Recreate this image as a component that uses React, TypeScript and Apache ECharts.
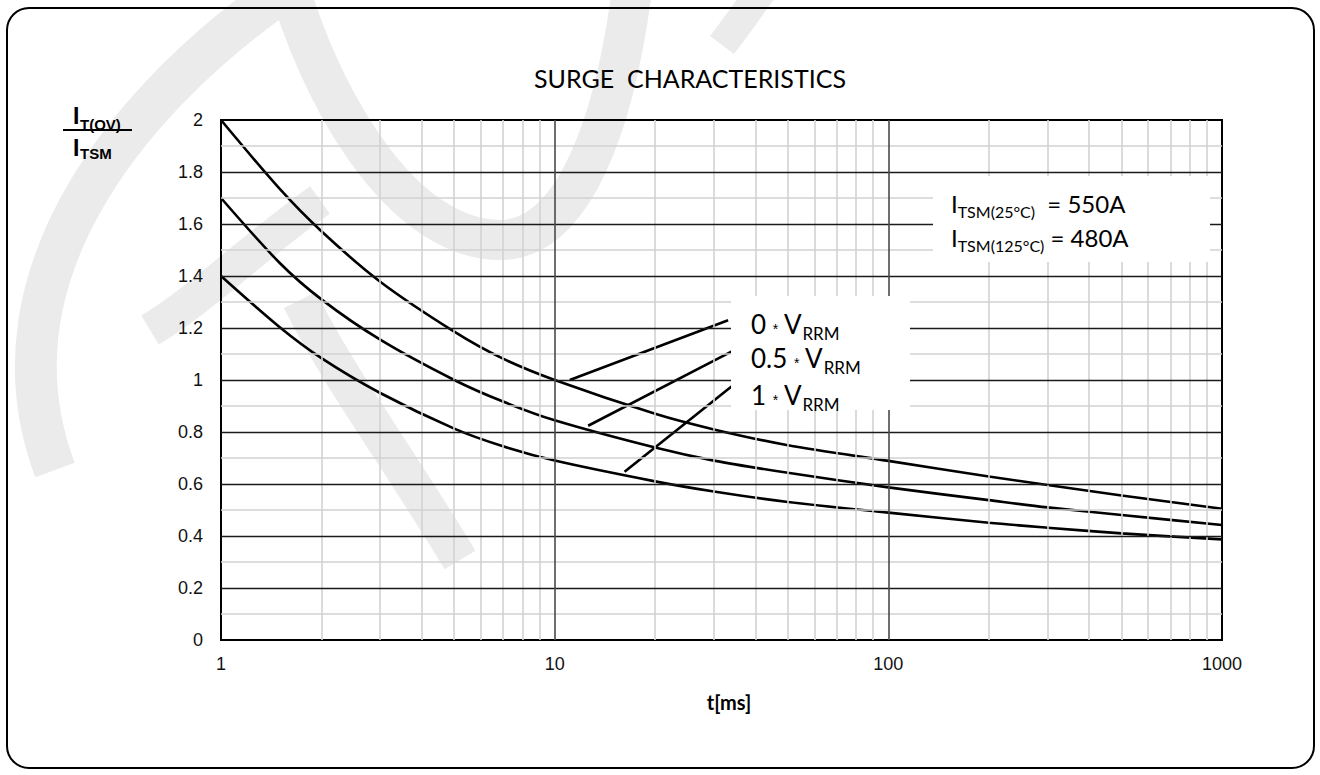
import React, { useEffect, useRef } from "react";
import * as echarts from "echarts";

// ---- data ----
const timeMs = [1, 1.5, 2, 3, 5, 7, 10, 20, 30, 50, 100, 200, 300, 500, 1000];
const ratioAt0VRRM = [2.0, 1.735, 1.572, 1.378, 1.186, 1.082, 1.0, 0.87, 0.81, 0.749, 0.689, 0.629, 0.596, 0.556, 0.505];
const ratioAt05VRRM = [1.7, 1.45, 1.31, 1.155, 1.0, 0.917, 0.845, 0.74, 0.69, 0.643, 0.587, 0.538, 0.51, 0.481, 0.442];
const ratioAt1VRRM = [1.4, 1.203, 1.084, 0.95, 0.813, 0.745, 0.69, 0.61, 0.571, 0.531, 0.49, 0.451, 0.432, 0.41, 0.387];

const xMinorGrid = [2, 3, 4, 5, 6, 7, 8, 9, 20, 30, 40, 50, 60, 70, 80, 90, 200, 300, 400, 500, 600, 700, 800, 900];
const xMajorGrid = [10, 100];
const yMajorGrid = [0.2, 0.4, 0.6, 0.8, 1.0, 1.2, 1.4, 1.6, 1.8];
const yMinorGrid = [0.1, 0.3, 0.5, 0.7, 0.9, 1.1, 1.3, 1.5, 1.7, 1.9];

// leader lines (data coordinates: [t, ratio])
const leader0 = [[11.1, 1.0], [33.1, 1.23]];
const leader05 = [[12.6, 0.824], [34.2, 1.112]];
const leader1 = [[16.2, 0.647], [35.3, 0.993]];

const seriesLabels = ["0", "0.5", "1"];

const FONT_CAL = "Lato, 'Open Sans', sans-serif";
const FONT_ARIAL = "'Liberation Sans', Arial, sans-serif";
const FONT_NARROW = "'Liberation Sans Narrow', 'Liberation Sans', Arial, sans-serif";

export default function App() {
  const ref = useRef<HTMLDivElement>(null);

  useEffect(() => {
    if (!ref.current) return;
    const chart = echarts.init(ref.current, undefined, { renderer: "svg" });

    const minorStyle = { color: "#d2d2d2", width: 1.6, type: "solid" };
    const majorH = { color: "#1a1a1a", width: 1.3, type: "solid" };
    const majorV = { color: "#4a4a4a", width: 1.6, type: "solid" };

    const curve = (name: string, vals: number[]) => ({
      name,
      type: "line",
      z: 3,
      smooth: 0.3,
      symbol: "none",
      silent: true,
      lineStyle: { color: "#000", width: 2.6 },
      data: timeMs.map((t, i) => [t, vals[i]]),
    });
    const leader = (pts: number[][]) => ({
      type: "line",
      z: 3,
      symbol: "none",
      silent: true,
      lineStyle: { color: "#000", width: 2.6 },
      data: pts,
    });

    const wm = "#ebebeb";
    const band = (x1: number, y1: number, c1x: number, c1y: number, c2x: number, c2y: number, x2: number, y2: number, w: number) => ({
      type: "bezierCurve",
      z: -5,
      silent: true,
      shape: { x1, y1, cpx1: c1x, cpy1: c1y, cpx2: c2x, cpy2: c2y, x2, y2 },
      style: { stroke: wm, lineWidth: w, fill: "none", lineCap: "butt" },
    });

    const labelRich = {
      n: { fontSize: 26, fontFamily: FONT_CAL, fill: "#000", lineHeight: 30 },
      a: { fontSize: 14, fontFamily: FONT_ARIAL, fill: "#000", lineHeight: 14, padding: [10, 0, 0, 0] },
      s: { fontSize: 17, fontFamily: FONT_CAL, fill: "#000", lineHeight: 17, padding: [18, 0, 0, 0] },
    };
    const itsmRich = {
      i: { fontSize: 24, fontFamily: FONT_CAL, fill: "#000", lineHeight: 28 },
      s: { fontSize: 16, fontFamily: FONT_CAL, fill: "#000", lineHeight: 16, padding: [17, 0, 0, 0] },
    };

    const option: any = {
      animation: false,
      backgroundColor: "#fff",
      grid: {
        left: 221, top: 120, right: 98, bottom: 135,
        show: true, borderColor: "#000", borderWidth: 2, backgroundColor: "transparent",
      },
      xAxis: {
        type: "log", logBase: 10, min: 1, max: 1000,
        axisLine: { show: true, lineStyle: { color: "#000", width: 2 } },
        axisTick: { show: false },
        splitLine: { show: false },
        axisLabel: { fontSize: 18, color: "#111", fontFamily: FONT_ARIAL, margin: 15, formatter: (v: number) => String(v) },
      },
      yAxis: {
        type: "value", min: 0, max: 2, interval: 0.2,
        axisLine: { show: true, lineStyle: { color: "#000", width: 2 } },
        axisTick: { show: false },
        splitLine: { show: false },
        axisLabel: { fontSize: 18, color: "#111", fontFamily: FONT_ARIAL, margin: 18 },
      },
      series: [
        {
          type: "line", data: [], z: 1, silent: true,
          markLine: {
            silent: true, symbol: ["none", "none"], label: { show: false },
            emphasis: { disabled: true },
            data: [
              ...xMinorGrid.map((v) => ({ xAxis: v, lineStyle: minorStyle })),
              ...yMinorGrid.map((v) => ({ yAxis: v, lineStyle: minorStyle })),
              ...yMajorGrid.map((v) => ({ yAxis: v, lineStyle: majorH })),
              ...xMajorGrid.map((v) => ({ xAxis: v, lineStyle: majorV })),
            ],
          },
        },
        curve(seriesLabels[0] + " * VRRM", ratioAt0VRRM),
        curve(seriesLabels[1] + " * VRRM", ratioAt05VRRM),
        curve(seriesLabels[2] + " * VRRM", ratioAt1VRRM),
        leader(leader0),
        leader(leader05),
        leader(leader1),
      ],
      graphic: [
        // watermark
        band(290, -10, 330, 120, 410, 240, 500, 240, 40),
        band(500, 240, 575, 240, 615, 120, 632, -10, 40),
        band(722, 45, 735, 28, 748, 10, 762, -10, 30),
        band(285, -10, 140, 90, -20, 270, 55, 470, 42),
        band(320, 200, 250, 250, 200, 300, 150, 330, 34),
        band(300, 300, 340, 380, 400, 460, 460, 560, 36),
        // outer rounded frame
        {
          type: "rect", z: 50, silent: true,
          shape: { x: 7, y: 8, width: 1307, height: 760, r: 22 },
          style: { fill: "none", stroke: "#000", lineWidth: 2 },
        },
        // title
        {
          type: "text", z: 20, x: 690, y: 78,
          style: { text: "SURGE  CHARACTERISTICS", fontSize: 25, fontFamily: FONT_CAL, fill: "#000", align: "center", verticalAlign: "middle" },
        },
        // x axis name
        {
          type: "text", z: 20, x: 729, y: 702,
          style: { text: "t[ms]", fontSize: 20, fontWeight: "bold", fontFamily: FONT_CAL, fill: "#000", align: "center", verticalAlign: "middle" },
        },
        // y axis name (fraction)
        {
          type: "text", z: 20, x: 73, y: 116,
          style: { text: "I", fontSize: 23, fontWeight: "bold", fontFamily: FONT_NARROW, fill: "#000", align: "left", verticalAlign: "middle" },
        },
        {
          type: "text", z: 20, x: 80, y: 124,
          style: { text: "T(OV)", fontSize: 15, fontWeight: "bold", fontFamily: FONT_NARROW, fill: "#000", align: "left", verticalAlign: "middle" },
        },
        {
          type: "line", z: 20, silent: true,
          shape: { x1: 63, y1: 130, x2: 132, y2: 130 },
          style: { stroke: "#000", lineWidth: 2 },
        },
        {
          type: "text", z: 20, x: 73, y: 147.5,
          style: { text: "I", fontSize: 23, fontWeight: "bold", fontFamily: FONT_NARROW, fill: "#000", align: "left", verticalAlign: "middle" },
        },
        {
          type: "text", z: 20, x: 80, y: 153.5,
          style: { text: "TSM", fontSize: 15, fontWeight: "bold", fontFamily: FONT_NARROW, fill: "#000", align: "left", verticalAlign: "middle" },
        },
        // white boxes
        {
          type: "rect", z: 10, silent: true,
          shape: { x: 933, y: 176, width: 277, height: 86 },
          style: { fill: "#fff" },
        },
        {
          type: "rect", z: 10, silent: true,
          shape: { x: 731, y: 296, width: 179, height: 114 },
          style: { fill: "#fff" },
        },
        // ITSM texts
        {
          type: "text", z: 20, x: 951, y: 203,
          style: { text: "{i|I}{s|TSM(25°C)}{i|  = 550A}", rich: itsmRich, align: "left", verticalAlign: "middle" },
        },
        {
          type: "text", z: 20, x: 951, y: 237,
          style: { text: "{i|I}{s|TSM(125°C)}{i| = 480A}", rich: itsmRich, align: "left", verticalAlign: "middle" },
        },
        // series labels
        {
          type: "text", z: 20, x: 751, y: 324,
          style: { text: "{n|" + seriesLabels[0] + " }{a|*}{n| V}{s|RRM}", rich: labelRich, align: "left", verticalAlign: "middle" },
        },
        {
          type: "text", z: 20, x: 751, y: 358,
          style: { text: "{n|" + seriesLabels[1] + " }{a|*}{n| V}{s|RRM}", rich: labelRich, align: "left", verticalAlign: "middle" },
        },
        {
          type: "text", z: 20, x: 751, y: 395,
          style: { text: "{n|" + seriesLabels[2] + " }{a|*}{n| V}{s|RRM}", rich: labelRich, align: "left", verticalAlign: "middle" },
        },
      ],
    };

    chart.setOption(option);
    return () => chart.dispose();
  }, []);

  return <div ref={ref} style={{ position: "absolute", left: 0, top: 0, width: 1320, height: 775 }} />;
}
